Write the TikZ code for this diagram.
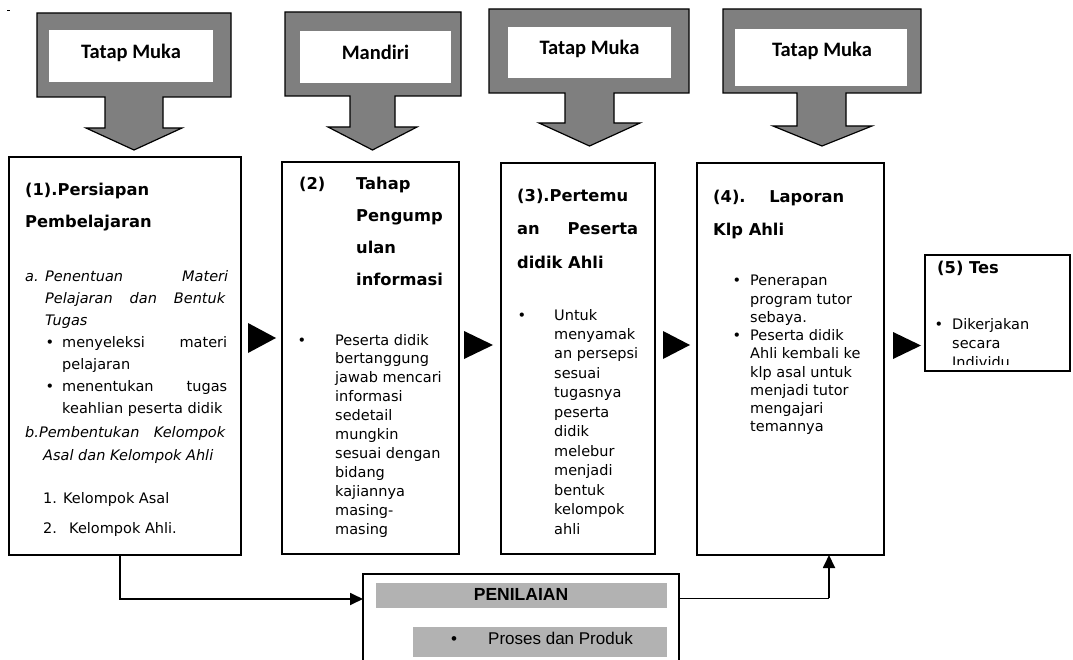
\documentclass[tikz,border=0pt]{standalone}
\usepackage{fontspec}
\setmainfont{DejaVu Sans}[ItalicFont={DejaVu Sans Oblique},BoldFont={DejaVu Sans Bold}]
\newfontfamily\calib{Carlito}
\newfontfamily\arialf{Liberation Sans}
\usetikzlibrary{arrows.meta}
\definecolor{calgray}{RGB}{127,127,127}
\definecolor{pengray}{RGB}{178,178,178}
\tikzset{
  box/.style={draw=black, line width=1.2pt, fill=white, anchor=north west, inner sep=0pt, outer sep=0pt},
  body/.style={inner sep=0pt, anchor=base west, font=\fontsize{14.5}{17}\selectfont},
  bodyi/.style={inner sep=0pt, anchor=base west, font=\fontsize{14.5}{17}\selectfont\itshape},
  bul/.style={inner sep=0pt, anchor=base, font=\fontsize{14.5}{17}\selectfont},
  ttl/.style={inner sep=0pt, anchor=base west, font=\fontsize{16.3}{19}\selectfont\bfseries},
  lbl/.style={inner sep=0pt, anchor=base, font=\calib\bfseries\fontsize{20.5}{24}\selectfont},
  pent/.style={inner sep=0pt, font=\arialf\fontsize{17}{20}\selectfont},
  callout/.style={fill=calgray, draw=black, line width=1.2pt, line join=miter},
  tri/.style={fill=black},
  conn/.style={line width=1.8pt, -{Triangle[length=13pt,width=12pt]}},
  thinconn/.style={line width=1pt},
}
\begin{document}
\begin{tikzpicture}[x=1pt,y=-1pt]
\useasboundingbox (0,0) rectangle (1073,660);
\clip (0,0) rectangle (1073,660);
\fill[white] (0,0) rectangle (1073,660);
% stray mark
\draw[line width=0.6pt] (7,10) -- (9.5,10);

% ---------- callouts ----------
\draw[callout] (37,13) -- (231,13) -- (231,97) -- (163,97) -- (163,128) -- (182,128) -- (134,150) -- (86,128) -- (105,128) -- (105,97) -- (37,97) -- cycle;
\fill[white] (49,30) rectangle (213,82);
\node[lbl] (lbl1) at (131,59) {Tatap Muka};

\draw[callout] (285,12) -- (461,12) -- (461,96) -- (395,96) -- (395,127) -- (417,127) -- (372.5,150) -- (328,127) -- (350,127) -- (350,96) -- (285,96) -- cycle;
\fill[white] (300,31) rectangle (451,83);
\node[lbl] (lbl2) at (375.5,60) {Mandiri};

\draw[callout] (489,9) -- (689,9) -- (689,93) -- (614,93) -- (614,123) -- (640,123) -- (589.5,146) -- (539,123) -- (565,123) -- (565,93) -- (489,93) -- cycle;
\fill[white] (508,27) rectangle (671,78);
\node[lbl] (lbl3) at (589.5,55) {Tatap Muka};

\draw[callout] (723,9) -- (921,9) -- (921,93) -- (846,93) -- (846,126) -- (872,126) -- (822,146) -- (773,126) -- (797,126) -- (797,93) -- (723,93) -- cycle;
\fill[white] (735,29) rectangle (907,86);
\node[lbl] (lbl4) at (822,57) {Tatap Muka};

% ---------- boxes ----------
\node[box, minimum width=232pt, minimum height=398pt] (b1) at (9,157) {};
\node[box, minimum width=177pt, minimum height=392pt] (b2) at (282,162) {};
\node[box, minimum width=154pt, minimum height=391pt] (b3) at (501,163) {};
\node[box, minimum width=187pt, minimum height=392pt] (b4) at (697,163) {};
\node[box, minimum width=145pt, minimum height=116pt] (b5) at (925,255) {};

% ---------- box 1 text ----------
\node[ttl] (t1a) at (25,196) {(1).Persiapan};
\node[ttl] (t1b) at (25,228) {Pembelajaran};
\node[bodyi] (t1c) at (25,281) {\hbox to 203pt{\makebox[20pt][l]{a.}Penentuan\hfill Materi}};
\node[bodyi] (t1d) at (45,303) {\hbox to 180pt{Pelajaran\hfill dan\hfill Bentuk}};
\node[bodyi] (t1e) at (45,325) {Tugas};
\node[bul] (t1f) at (50,347) {•};
\node[body] (t1g) at (62,347) {\hbox to 165pt{menyeleksi\hfill materi}};
\node[body] (t1h) at (62,369) {pelajaran};
\node[bul] (t1i) at (50,391) {•};
\node[body] (t1j) at (62,391) {\hbox to 165pt{menentukan\hfill tugas}};
\node[body] (t1k) at (62,413) {keahlian peserta didik};
\node[bodyi] (t1l) at (25,437) {\hbox to 200pt{b.Pembentukan\hfill Kelompok}};
\node[bodyi] (t1m) at (43,460) {Asal dan Kelompok Ahli};
\node[body] (t1n) at (43,503) {1. Kelompok Asal};
\node[body] (t1o) at (43,533) {\makebox[26pt][l]{2.}Kelompok Ahli.};

% ---------- box 2 text ----------
\node[ttl] (t2a) at (299,190) {\makebox[57pt][l]{(2)}Tahap};
\node[ttl] (t2b) at (356,222) {Pengump};
\node[ttl] (t2c) at (356,254) {ulan};
\node[ttl] (t2d) at (356,286) {informasi};
\node[bul] (t2e) at (302,345) {•};
\node[body] (t2f) at (335,345) {Peserta didik};
\node[body] (t2g) at (335,363.9) {bertanggung};
\node[body] (t2h) at (335,382.8) {jawab mencari};
\node[body] (t2i) at (335,401.7) {informasi};
\node[body] (t2j) at (335,420.6) {sedetail};
\node[body] (t2k) at (335,439.5) {mungkin};
\node[body] (t2l) at (335,458.4) {sesuai dengan};
\node[body] (t2m) at (335,477.3) {bidang};
\node[body] (t2n) at (335,496.2) {kajiannya};
\node[body] (t2o) at (335,515.1) {masing-};
\node[body] (t2p) at (335,534) {masing};

% ---------- box 3 text ----------
\node[ttl] (t3a) at (517,202) {(3).Pertemu};
\node[ttl] (t3b) at (517,235) {\hbox to 121pt{an\hfill Peserta}};
\node[ttl] (t3c) at (517,269) {didik Ahli};
\node[bul] (t3d) at (522,320) {•};
\node[body] (t3e) at (554,320) {Untuk};
\node[body] (t3f) at (554,339.4) {menyamak};
\node[body] (t3g) at (554,358.9) {an persepsi};
\node[body] (t3h) at (554,378.3) {sesuai};
\node[body] (t3i) at (554,397.8) {tugasnya};
\node[body] (t3j) at (554,417.2) {peserta};
\node[body] (t3k) at (554,436.7) {didik};
\node[body] (t3l) at (554,456.1) {melebur};
\node[body] (t3m) at (554,475.6) {menjadi};
\node[body] (t3n) at (554,495) {bentuk};
\node[body] (t3o) at (554,514.5) {kelompok};
\node[body] (t3p) at (554,534) {ahli};

% ---------- box 4 text ----------
\node[ttl] (t4a) at (713,203) {\hbox to 131pt{(4).\hfill Laporan}};
\node[ttl] (t4b) at (713,236) {Klp Ahli};
\node[bul] (t4c) at (737,286) {•};
\node[body] (t4d) at (750,286) {Penerapan};
\node[body] (t4e) at (750,304.2) {program tutor};
\node[body] (t4f) at (750,322.4) {sebaya.};
\node[bul] (t4g) at (737,340.6) {•};
\node[body] (t4h) at (750,340.6) {Peserta didik};
\node[body] (t4i) at (750,358.8) {Ahli kembali ke};
\node[body] (t4j) at (750,377) {klp asal untuk};
\node[body] (t4k) at (750,395.2) {menjadi tutor};
\node[body] (t4l) at (750,413.4) {mengajari};
\node[body] (t4m) at (750,431.6) {temannya};

% ---------- box 5 text (clipped at the bottom as in the picture) ----------
\begin{scope}
\clip (926,256) rectangle (1069,364);
\node[ttl] (t5a) at (937,274) {(5) Tes};
\node[bul] (t5b) at (939,329) {•};
\node[body] (t5c) at (952,329) {Dikerjakan};
\node[body] (t5d) at (952,348) {secara};
\node[body] (t5e) at (952,367) {Individu};
\end{scope}

% ---------- arrowheads between boxes ----------
\fill[tri] (248,323) -- (276,338) -- (248,353) -- cycle;
\fill[tri] (464,331) -- (493,345) -- (464,359) -- cycle;
\fill[tri] (663,331) -- (690,345) -- (663,359) -- cycle;
\fill[tri] (893,332) -- (921,345.5) -- (893,359) -- cycle;

% ---------- PENILAIAN ----------
\node[box, minimum width=316pt, minimum height=120pt] (pen) at (363,574) {};
\fill[pengray] (376,583) rectangle (667,608);
\fill[pengray] (413,627) rectangle (667,657);
\node[pent, anchor=base, font=\arialf\bfseries\fontsize{17.5}{20}\selectfont] (pena) at (521,600) {PENILAIAN};
\node[pent, anchor=base] (penb) at (454,644) {•};
\node[pent, anchor=base west] (penc) at (488,644) {Proses dan Produk};

% ---------- connectors ----------
\coordinate (c1) at (120,599);
\draw[conn] (c1 |- b1.south) -- (c1) -- (c1 -| pen.west);
\coordinate (c2) at (829,598);
\draw[thinconn] (c2 -| pen.east) -- (c2);
\draw[conn] (c2) -- (c2 |- b4.south);
\end{tikzpicture}
\end{document}
